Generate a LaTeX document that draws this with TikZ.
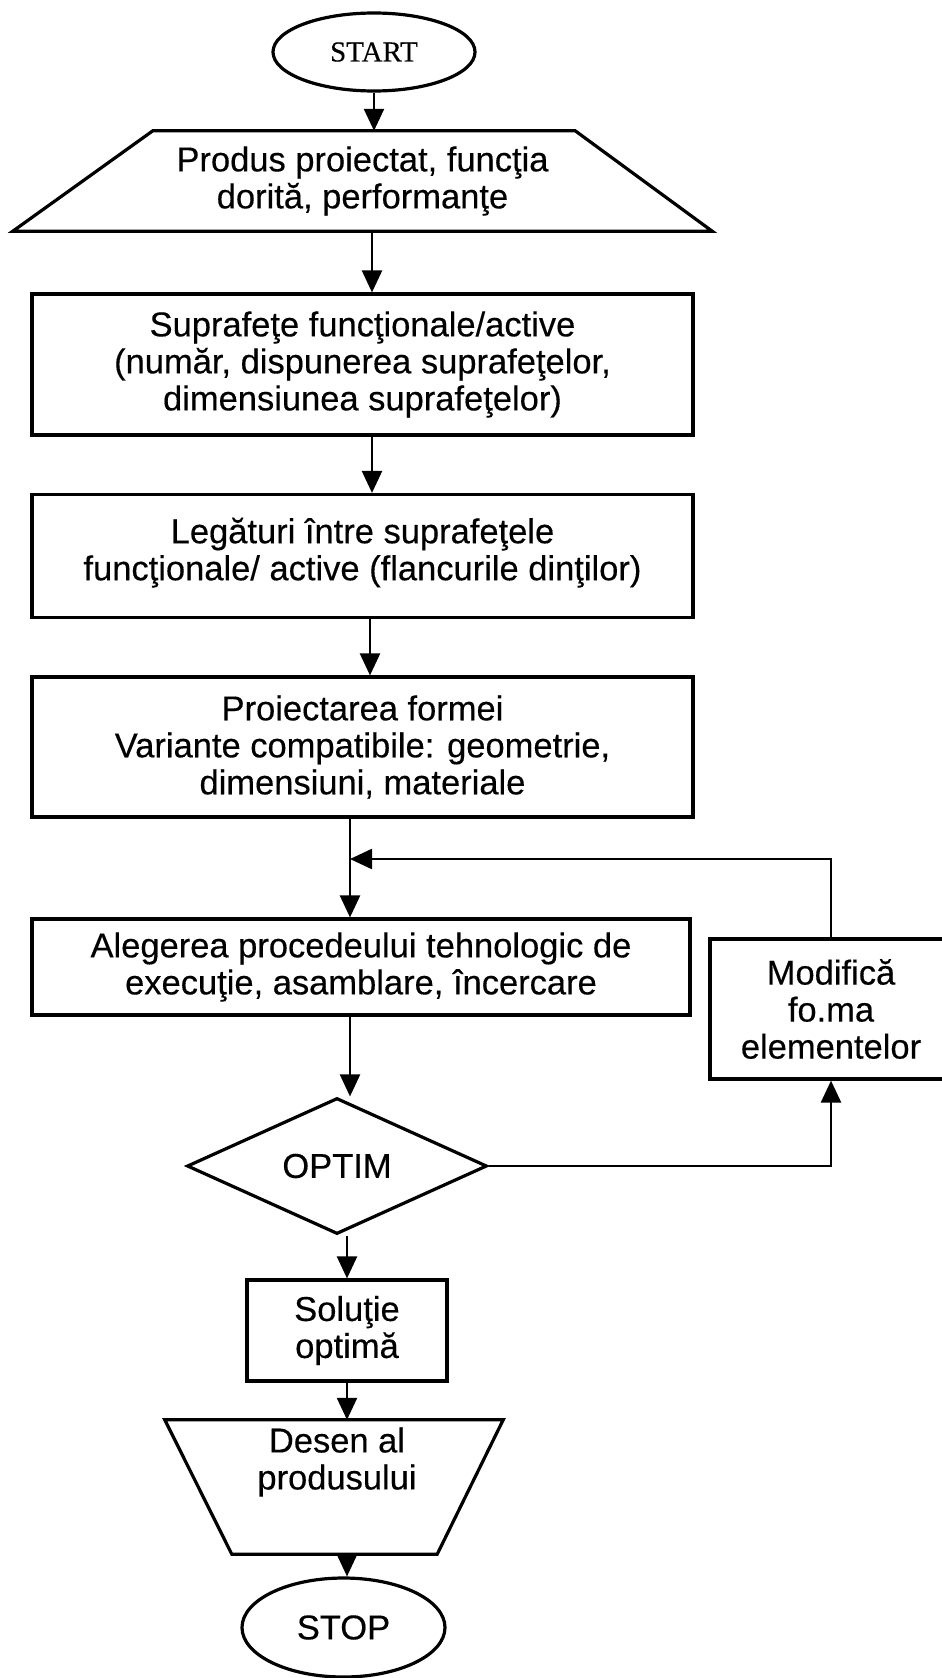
\documentclass[tikz,border=0pt]{standalone}
\usepackage{fontspec}
\setmainfont{Liberation Sans}[FakeBold=0.35]
\newfontfamily\startfont{Liberation Serif}[FakeBold=0.3]
\usetikzlibrary{shapes.geometric,arrows.meta}

\begin{document}
\begin{tikzpicture}[x=1pt,y=-1pt,
  every node/.style={font=\fontsize{34.5}{37}\selectfont, align=center, inner sep=0pt},
  boxnode/.style={draw, line width=3.2pt, rectangle},
  ovalnode/.style={draw, line width=3.2pt, ellipse},
  areanode/.style={rectangle},
  outline/.style={draw, line width=3.2pt, line join=miter},
  decnode/.style={draw, line width=3.2pt, diamond},
  flow/.style={line width=2.4pt, -{Triangle[length=22pt,width=20pt]}},
]
\useasboundingbox (0,0) rectangle (942,1678);
\clip (0,0) rectangle (942,1678);

% terminal shape
\node[ovalnode, minimum width=202pt, minimum height=78pt,
      font=\startfont\fontsize{29}{32}\selectfont] (start) at (374,52) {START};

% input trapezoid: narrow top, wide bottom
\node[areanode, minimum width=699pt, minimum height=100pt] (t1) at (362.5,181)
      {Produs proiectat, funcţia\\dorită, performanţe};
\draw[outline] ([xshift=140pt]t1.north west) -- ([xshift=-137pt]t1.north east)
      -- (t1.south east) -- (t1.south west) -- cycle;

% process steps
\node[boxnode, minimum width=661pt, minimum height=141pt] (b2) at (362.5,364.5)
      {Suprafeţe funcţionale/active\\(număr, dispunerea suprafeţelor,\\dimensiunea suprafeţelor)};
\node[boxnode, minimum width=661pt, minimum height=123pt, text depth=14pt] (b3) at (362.5,556)
      {Legături între suprafeţele\\funcţionale/ active (flancurile dinţilor)};
\node[boxnode, minimum width=661pt, minimum height=140pt] (b4) at (362.5,747)
      {Proiectarea formei\\Variante compatibile: geometrie,\\dimensiuni, materiale};
\node[boxnode, minimum width=658pt, minimum height=96pt] (b5) at (361,967)
      {Alegerea procedeului tehnologic de\\execuţie, asamblare, încercare};
\node[boxnode, minimum width=242pt, minimum height=140pt] (b6) at (831,1009)
      {Modifică\\fo.ma\\elementelor};

% decision
\node[decnode, minimum width=300pt, minimum height=136pt] (opt) at (337,1166) {OPTIM};

% result and end
\node[boxnode, minimum width=200pt, minimum height=101pt] (b7) at (347,1330.5)
      {Soluţie\\optimă};
% output trapezoid: wide top, narrow bottom
\node[areanode, minimum width=338pt, minimum height=134pt] (t2) at (334,1487) {};
\draw[outline] (t2.north west) -- (t2.north east)
      -- ([xshift=-66pt]t2.south east) -- ([xshift=67pt]t2.south west) -- cycle;
\node (t2txt) at (337,1462) {Desen al\\produsului};
\node[ovalnode, minimum width=203pt, minimum height=99pt] (stop) at (343.5,1627.5) {STOP};

% connectors
\coordinate (join) at (350,859);
\draw[flow] (start.south) -- (start.south |- t1.north);
\draw[flow] ([xshift=9.5pt]t1.south) -- ([xshift=9.5pt]t1.south |- b2.north);
\draw[flow] ([xshift=9.5pt]b2.south) -- ([xshift=9.5pt]b3.north);
\draw[flow] ([xshift=7.5pt]b3.south) -- ([xshift=7.5pt]b4.north);
\draw[flow] ([xshift=-12.5pt]b4.south) -- ([xshift=-11pt]b5.north);
\draw[flow] (b6.north) |- (join);
\draw[flow] ([xshift=-11pt]b5.south) -- ([xshift=-11pt]b5.south |- opt.north);
\draw[flow] (opt.east) -| (b6.south);
\draw[flow] (opt.south -| b7.north) -- (b7.north);
\draw[flow] (b7.south) -- (b7.south |- t2.north);
\draw[flow] (b7.south |- t2.south) -- (b7.south |- stop.north);
\end{tikzpicture}
\end{document}
